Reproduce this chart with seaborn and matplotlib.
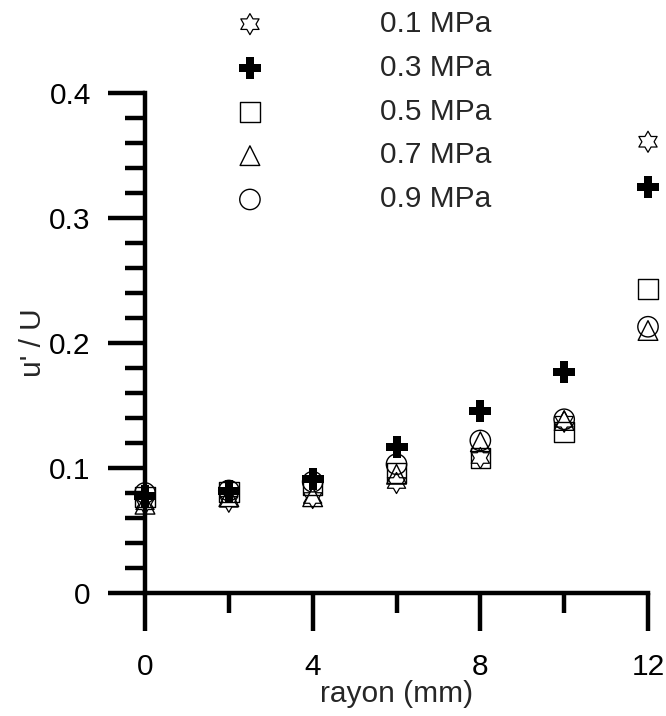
import numpy as np
import pandas as pd
import seaborn as sns
import matplotlib.pyplot as plt
from matplotlib.path import Path
from matplotlib.ticker import MultipleLocator, FuncFormatter

# Données
rayon = [0, 2, 4, 6, 8, 10, 12]
u_01 = [0.071, 0.073, 0.076, 0.088, 0.108, 0.137, 0.361]
u_03 = [0.078, 0.082, 0.091, 0.117, 0.146, 0.177, 0.325]
u_05 = [0.077, 0.081, 0.086, 0.096, 0.108, 0.129, 0.243]
u_07 = [0.071, 0.077, 0.077, 0.095, 0.121, 0.138, 0.210]
u_09 = [0.080, 0.082, 0.089, 0.103, 0.122, 0.139, 0.213]
pressions = ["0.1 MPa", "0.3 MPa", "0.5 MPa", "0.7 MPa", "0.9 MPa"]

series = [u_01, u_03, u_05, u_07, u_09]
df = pd.DataFrame({
    "rayon": rayon * len(series),
    "u": sum(series, []),
    "p": np.repeat(pressions, len(rayon)),
})

# étoile à six branches (hexagramme)
ang = np.pi / 2 + np.arange(12) * np.pi / 6
rad = np.where(np.arange(12) % 2 == 0, 1.0, 1 / np.sqrt(3))
verts = np.column_stack([rad * np.cos(ang), rad * np.sin(ang)])
verts = np.vstack([verts, verts[:1]])
etoile = Path(verts, closed=True)

styles = {
    "0.1 MPa": dict(marker=etoile, s=230, facecolor="none", edgecolor="black", linewidth=0.9),
    "0.3 MPa": dict(marker="P", s=260, facecolor="black", edgecolor="black", linewidth=0),
    "0.5 MPa": dict(marker="s", s=200, facecolor="none", edgecolor="black", linewidth=1.0),
    "0.7 MPa": dict(marker="^", s=200, facecolor="none", edgecolor="black", linewidth=1.0),
    "0.9 MPa": dict(marker="o", s=215, facecolor="none", edgecolor="black", linewidth=1.0),
}

sns.set_style("ticks")
plt.rcParams["font.family"] = ["Liberation Sans", "DejaVu Sans"]
plt.rcParams["font.size"] = 21.5

fig = plt.figure(figsize=(6.66, 7.16), dpi=100)
ax = fig.add_axes([145 / 666, 1 - 593 / 716, 503 / 666, 500 / 716])

for p in pressions:
    sub = df[df["p"] == p]
    sns.scatterplot(data=sub, x="rayon", y="u", ax=ax, label=p,
                    clip_on=False, zorder=3, **styles[p])

ax.set_xlim(0, 12)
ax.set_ylim(0, 0.4)
ax.xaxis.set_major_locator(MultipleLocator(4))
ax.xaxis.set_minor_locator(MultipleLocator(2))
ax.yaxis.set_major_locator(MultipleLocator(0.1))
ax.yaxis.set_minor_locator(MultipleLocator(0.02))
ax.yaxis.set_major_formatter(FuncFormatter(lambda v, pos: f"{v:g}"))

for s in ["top", "right"]:
    ax.spines[s].set_visible(False)
for s in ["left", "bottom"]:
    ax.spines[s].set_linewidth(3.2)
    ax.spines[s].set_color("black")

ax.tick_params(which="both", bottom=True, left=True, top=False, right=False)
ax.tick_params(which="major", direction="out", length=27, width=3.2,
               color="black", labelsize=21.5, labelcolor="black")
ax.tick_params(which="minor", direction="out", length=14.5, width=3.2, color="black")
ax.tick_params(axis="y", which="major", pad=12)
ax.tick_params(axis="x", which="major", pad=16)

ax.set_xlabel("rayon (mm)", fontsize=21.5)
ax.set_ylabel("u' / U", fontsize=21.5)
ax.xaxis.set_label_coords(0.5, -0.175)
ax.yaxis.set_label_coords(-0.195, 0.5)

ax.legend(loc="upper left", bbox_to_anchor=(235 / 666, 1 - 10 / 716),
          bbox_transform=fig.transFigure, frameon=False, fontsize=21.5,
          borderpad=0, borderaxespad=0, handlelength=1.0,
          handletextpad=3.85, labelspacing=0.53, scatterpoints=1)

fig.savefig("out.png", dpi=100)
